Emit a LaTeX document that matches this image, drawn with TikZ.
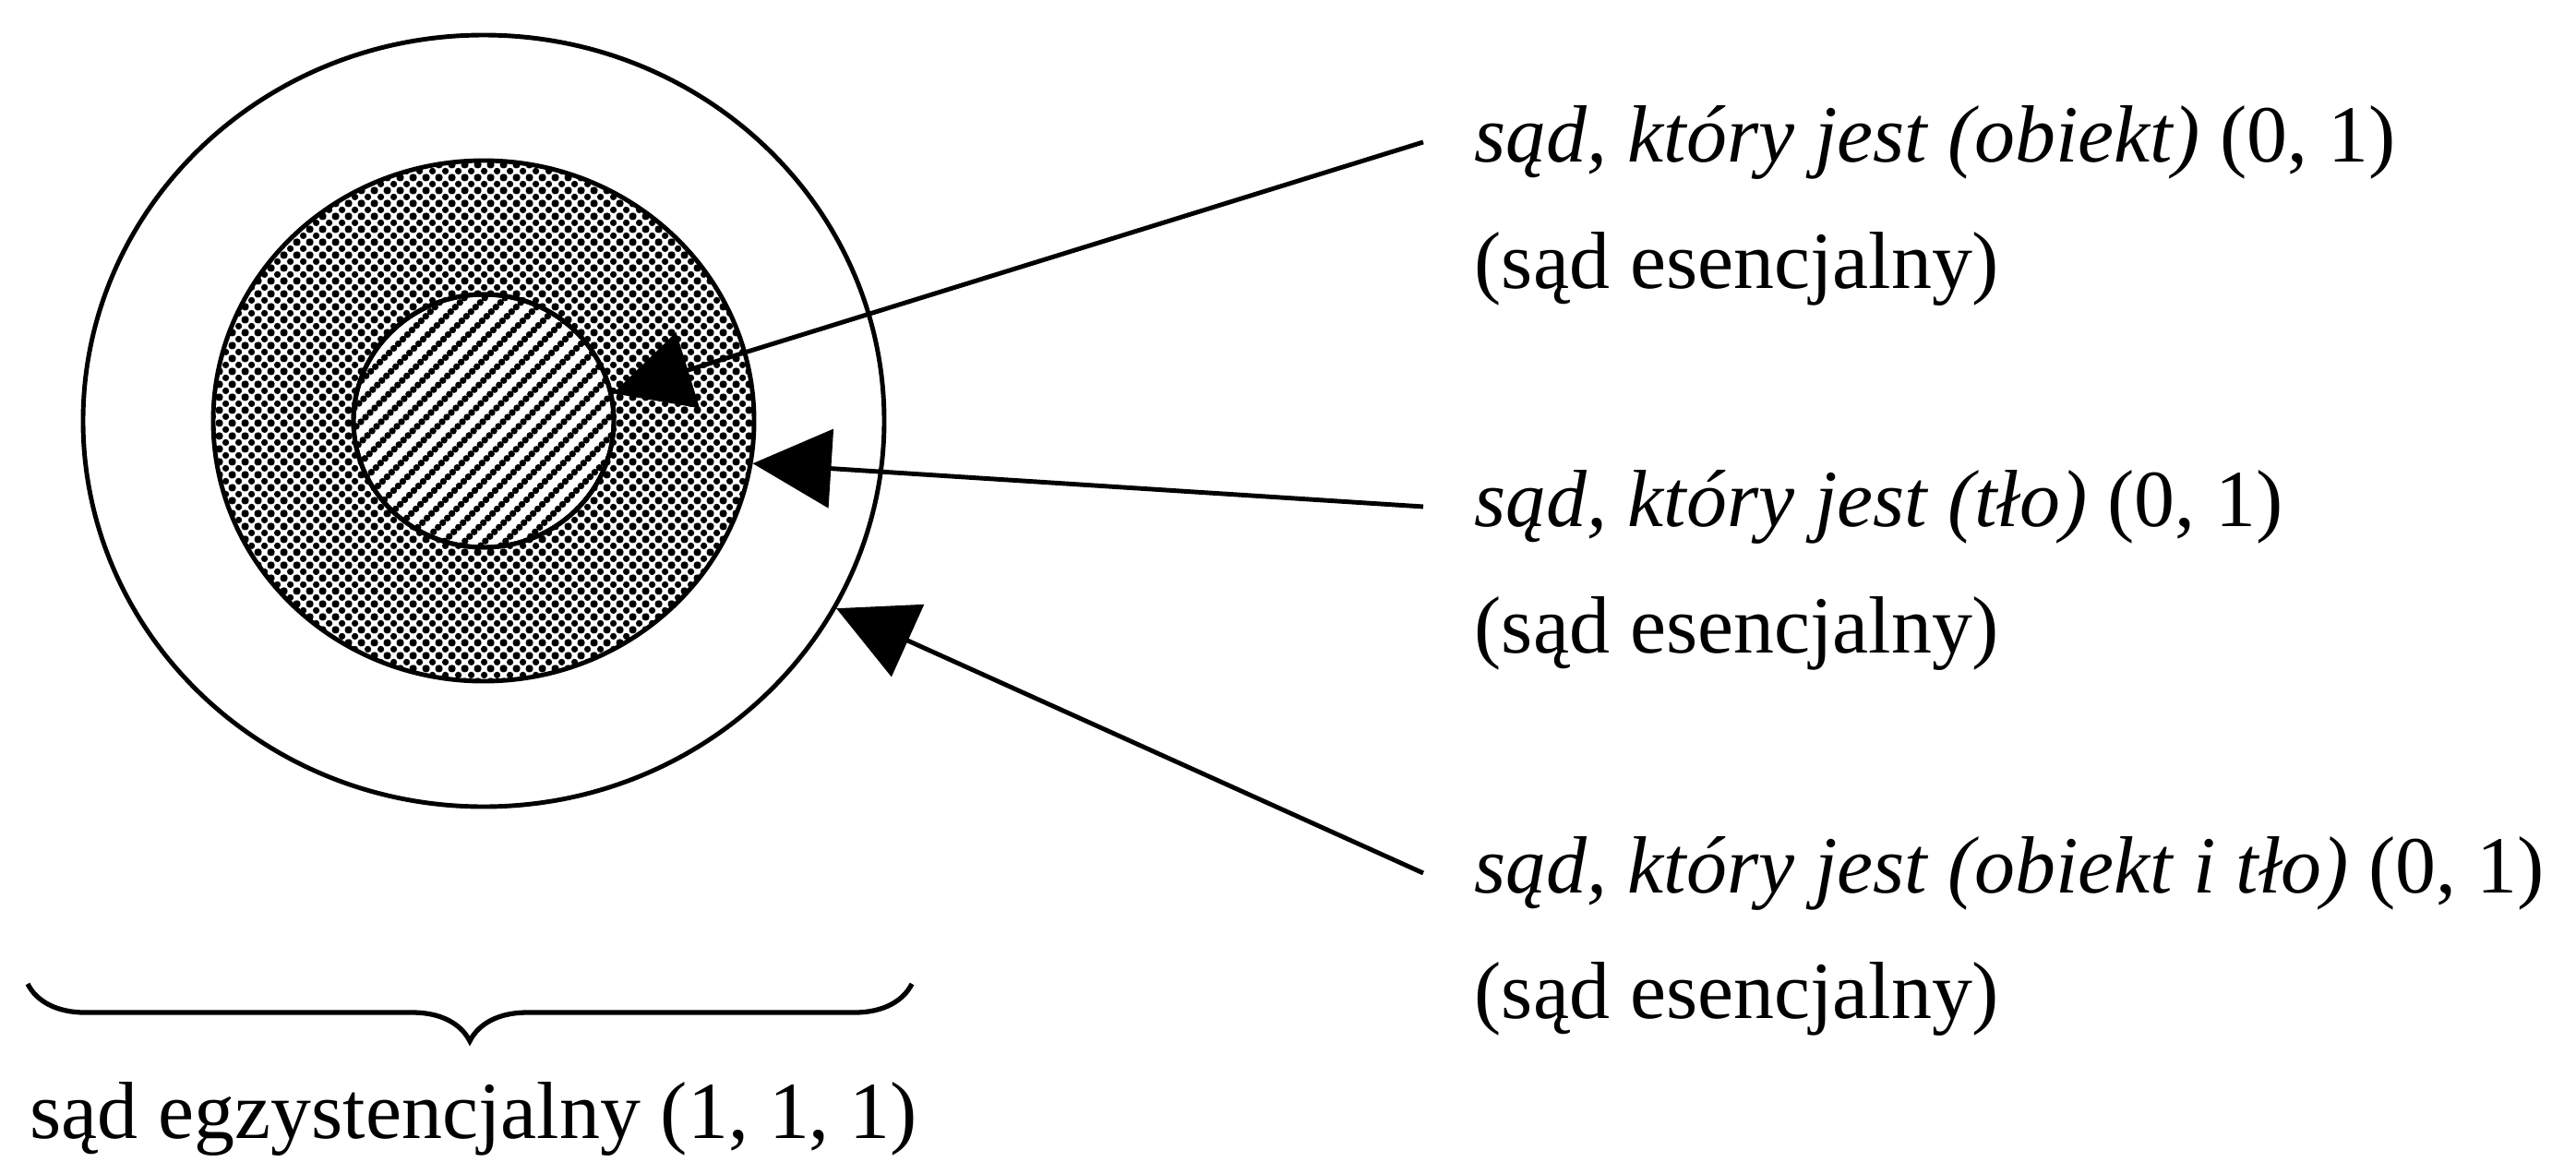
\documentclass[tikz,border=0pt]{standalone}
\usepackage{fontspec}
\setmainfont{Liberation Serif}
\usepackage{tikz}
\usetikzlibrary{arrows.meta,positioning,calc,shapes.geometric,patterns.meta,decorations.pathreplacing}

\tikzdeclarepattern{
  name=halftone,
  type=uncolored,
  bounding box={(0pt,0pt) and (4pt,4pt)},
  tile size={(4pt,4pt)},
  code={
    \fill (0pt,0pt) circle (1.1pt);
    \fill (4pt,0pt) circle (1.1pt);
    \fill (0pt,4pt) circle (1.1pt);
    \fill (4pt,4pt) circle (1.1pt);
    \fill (2pt,2pt) circle (1.1pt);
  }
}

\tikzset{
  ring/.style={draw, ellipse, inner sep=0pt, line width=1.4pt},
  lbl/.style={inner sep=0pt, anchor=base west, font=\fontsize{25}{30}\selectfont},
  arr/.style={line width=1.4pt, -{Triangle[length=0.85cm, width=0.85cm]}},
  hatch/.style={line width=2.1pt, line cap=round, dash pattern=on 0pt off 2pt}
}

\begin{document}
\begin{tikzpicture}
    \useasboundingbox (0,0) rectangle (27.91,-12.58);
    % the three circles
    \node[ring, fill=white, minimum width=8.68cm, minimum height=8.36cm] (outer) at (5.24,-4.56) {};
    \node[ring, pattern=halftone, minimum width=5.86cm, minimum height=5.64cm] (mid) at (outer.center) {};
    \node[ring, fill=white, minimum width=2.82cm, minimum height=2.74cm] (inner) at (outer.center) {};
    \begin{scope}
        \clip (inner.center) ellipse [x radius=1.41cm, y radius=1.37cm];
        \foreach \k in {-14,...,14}
            \draw[hatch] ($(inner.center)+(\k*0.22,0)+(-1.6,-1.6)$) -- ++(3.2,3.2);
    \end{scope}
    \node[ring, minimum width=2.82cm, minimum height=2.74cm] at (outer.center) {};

    % labels on the right
    \node[lbl] (obj) at (15.97,-1.75) {\textit{sąd, który jest (obiekt)} (0, 1)};
    \node[lbl] (obje) at (15.97,-3.12) {(sąd esencjalny)};
    \node[lbl] (bg) at (15.97,-5.70) {\textit{sąd, który jest (tło)} (0, 1)};
    \node[lbl] (bge) at (15.97,-7.07) {(sąd esencjalny)};
    \node[lbl] (both) at (15.97,-9.67) {\textit{sąd, który jest (obiekt i tło)} (0, 1)};
    \node[lbl] (bothe) at (15.97,-11.03) {(sąd esencjalny)};

    \draw[arr] ([xshift=-5.5mm]obj.west) -- (inner.12);
    \draw[arr] ([xshift=-5.5mm]bg.west) -- (mid.-9);
    \draw[arr] ([xshift=-5.5mm]both.west) -- (outer.-28);

    % brace and caption
    \draw[line width=1.5pt, decorate, decoration={brace, mirror, amplitude=0.62cm}] (0.30,-10.66) -- (9.88,-10.66);
    \node[lbl] (exist) at (0.32,-12.33) {sąd egzystencjalny (1, 1, 1)};
\end{tikzpicture}
\end{document}
